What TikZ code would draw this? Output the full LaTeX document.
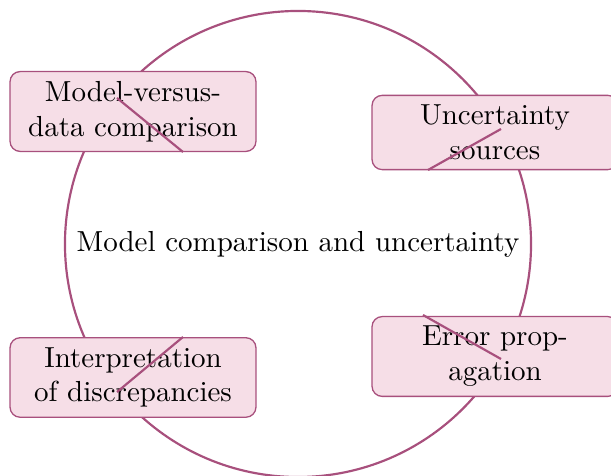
\documentclass[tikz,border=0pt]{standalone}
\definecolor{cyc}{HTML}{A8507D}
\definecolor{boxfill}{HTML}{F6DEE7}
\begin{document}
\begin{tikzpicture}[x=0.3448pt,y=-0.3448pt,
  stagebox/.style={draw=cyc, line width=0.45pt, fill=boxfill, rounded corners=3.5pt,
    align=center, text width=75pt, inner xsep=4.9pt, inner ysep=3.33pt},
  ring/.style={draw=cyc, line width=0.75pt},
  spoke/.style={draw=cyc, line width=0.75pt}]
\useasboundingbox (0,0) rectangle (611,476);
\node[circle, ring, minimum size=160.7pt, inner sep=0pt] (ring) at (298,244) {};
\node (title) at (298,244) {Model comparison and uncertainty};
\node[stagebox] (mvd) at (133,111.5) {Model-versus-\\data comparison};
\node[stagebox] (unc) at (495,132.5) {Uncertainty\\sources};
\node[stagebox] (int) at (133,377.5) {Interpretation\\of discrepancies};
\node[stagebox] (err) at (495,356.5) {Error prop-\\agation};
\coordinate (p1) at (117,98);  \coordinate (q1) at (183,152);
\coordinate (p2) at (501,129); \coordinate (q2) at (428,170);
\coordinate (p3) at (117,392); \coordinate (q3) at (183,337);
\coordinate (p4) at (501,359); \coordinate (q4) at (423,315);
\draw[spoke] (p1) -- (q1);
\draw[spoke] (p2) -- (q2);
\draw[spoke] (p3) -- (q3);
\draw[spoke] (p4) -- (q4);
\end{tikzpicture}
\end{document}
